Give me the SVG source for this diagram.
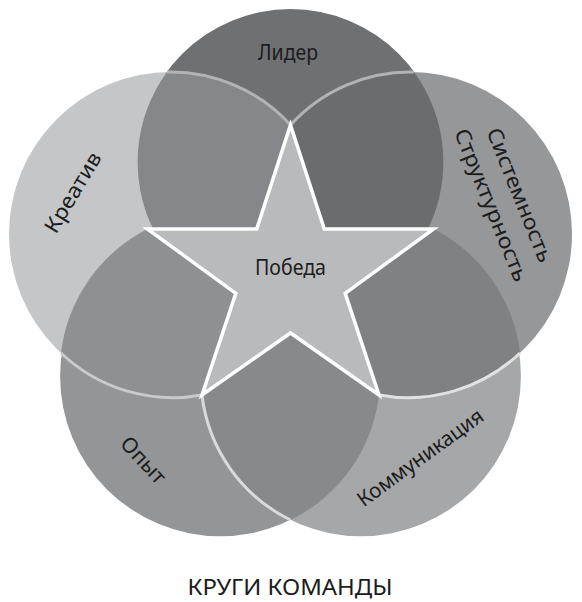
<svg xmlns="http://www.w3.org/2000/svg" width="582" height="602" viewBox="0 0 582 602">
<style>
  .lbl { font-family: "Noto Sans", "DejaVu Sans", sans-serif; font-size: 21px; fill: #1c1c1c; text-anchor: middle; }
  .ttl { font-family: "Noto Sans", "DejaVu Sans", sans-serif; font-size: 21px; fill: #1c1c1c; text-anchor: middle; }
  .arc { fill: none; stroke-width: 3; }
</style>
<rect x="0" y="0" width="582" height="602" fill="#ffffff"/>
<g id="nodes">
  <g id="node-lider">
    <circle cx="290.5" cy="162" r="153" fill="#6f7072"/>
    <text class="lbl" x="288" y="60" textLength="60" lengthAdjust="spacingAndGlyphs">Лидер</text>
  </g>
  <g id="node-opyt">
    <circle cx="220.1" cy="376.3" r="160" fill="#949597"/>
    <text class="lbl" transform="translate(142.5,461) rotate(47)" x="0" y="6" textLength="56" lengthAdjust="spacingAndGlyphs">Опыт</text>
  </g>
  <g id="node-kommunikaciya">
    <circle cx="360.9" cy="376.3" r="160" fill="#a6a7a9"/>
    <text class="lbl" transform="translate(421,458.5) rotate(-36)" x="0" y="6" textLength="150" lengthAdjust="spacingAndGlyphs">Коммуникация</text>
  </g>
  <g id="node-kreativ">
    <circle cx="171" cy="234" r="162" fill="#c5c6c8"/>
    <text class="lbl" transform="translate(74,193) rotate(-59)" x="0" y="6" textLength="90" lengthAdjust="spacingAndGlyphs">Креатив</text>
  </g>
  <g id="node-sistemnost">
    <circle cx="410" cy="234" r="162" fill="#969799"/>
    <text class="lbl" transform="translate(518.5,195.5) rotate(68)" x="0" y="6" textLength="143" lengthAdjust="spacingAndGlyphs">Системность</text>
    <text class="lbl" transform="translate(490,205.5) rotate(68)" x="0" y="6" textLength="163" lengthAdjust="spacingAndGlyphs">Структурность</text>
  </g>
</g>
<g id="overlaps">
  <path d="M167,72 A153,153 0 0 0 153,229 L256.7,229 L290.5,125 A162,162 0 0 0 167,72 Z" fill="#86878a"/>
  <path d="M414,72 A153,153 0 0 1 428,229 L324.3,229 L290.5,125 A162,162 0 0 1 414,72 Z" fill="#6b6c6e"/>
  <path d="M147.5,229 A160,160 0 0 0 61,353 A162,162 0 0 0 202,395 L235.8,293.3 Z" fill="#8f9092"/>
  <path d="M433.5,229 A160,160 0 0 1 520,353 A162,162 0 0 1 379,395 L345.2,293.3 Z" fill="#808183"/>
  <path d="M202,395 A160,160 0 0 0 290.5,520 A160,160 0 0 0 379,395 L290.5,333 Z" fill="#88898b"/>
</g>
<g id="connectors">
  <path class="arc" d="M167,72 A162,162 0 0 1 290.5,125" stroke="#b2b3b5"/>
  <path class="arc" d="M414,72 A162,162 0 0 0 290.5,125" stroke="#b2b3b5"/>
  <path class="arc" d="M61,353 A162,162 0 0 0 202,395" stroke="#c9cacc"/>
  <path class="arc" d="M202,395 A160,160 0 0 0 290.5,520" stroke="#d9dadb"/>
  <path class="arc" d="M379,395 A162,162 0 0 0 520,353" stroke="#e2e2e3"/>
</g>
<g id="node-pobeda">
  <path d="M290.5,125 L324.3,229 L433.6,229 L345.2,293.3 L379,395 L290.5,333 L202,395 L235.8,293.3 L147.4,229 L256.7,229 Z" fill="#b9babc" stroke="#ffffff" stroke-width="3.5" stroke-linejoin="miter"/>
  <text class="lbl" x="290.5" y="275" textLength="71" lengthAdjust="spacingAndGlyphs">Победа</text>
</g>
<g id="title">
  <text class="ttl" x="290" y="595" textLength="205" lengthAdjust="spacingAndGlyphs">КРУГИ КОМАНДЫ</text>
</g>
</svg>
